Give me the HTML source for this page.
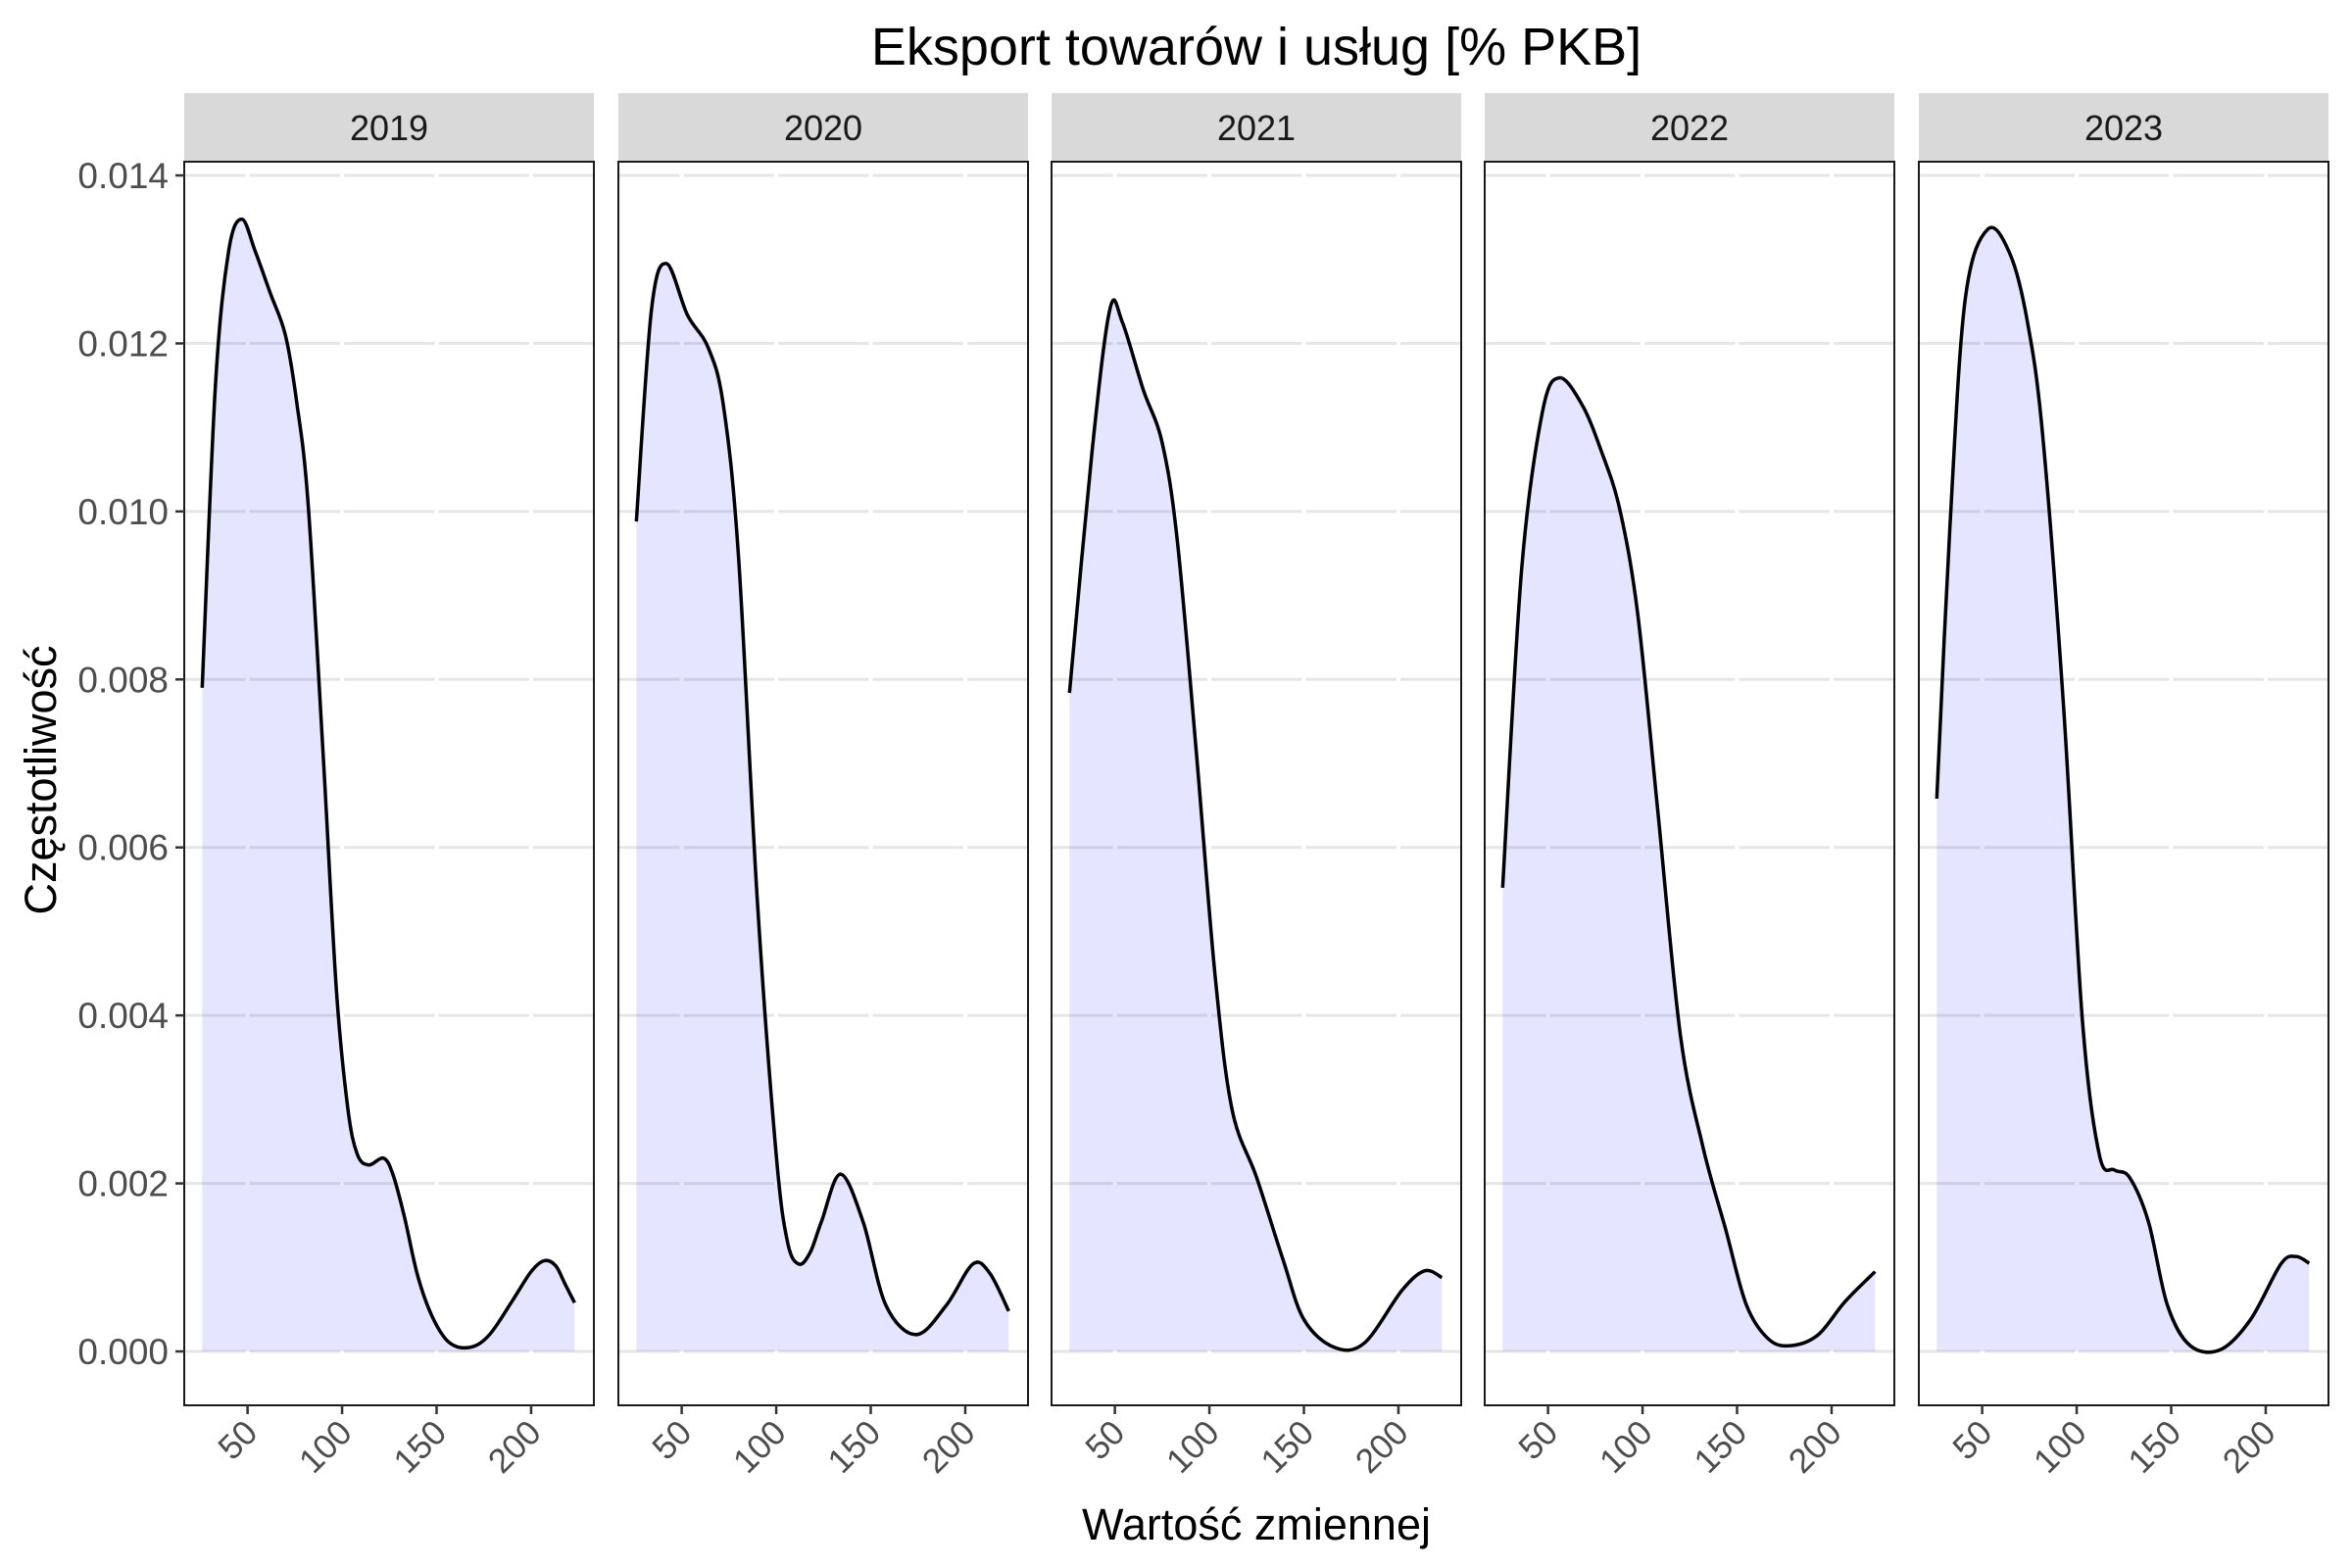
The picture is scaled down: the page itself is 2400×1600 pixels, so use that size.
<!DOCTYPE html>
<html><head><meta charset="utf-8"><style>
html,body{margin:0;padding:0;background:#fff;}
svg{display:block;font-family:"Liberation Sans",sans-serif;}
</style></head><body>
<svg id="chart" width="2400" height="1600" viewBox="0 0 2400 1600">
<text x="1282" y="66" text-anchor="middle" font-size="54" fill="#000">Eksport towarów i usług [% PKB]</text>
<text transform="translate(57,796) rotate(-90)" text-anchor="middle" font-size="45" fill="#000">Częstotliwość</text>
<text x="1282" y="1571" text-anchor="middle" font-size="45" fill="#000">Wartość zmiennej</text>
<g id="panels"></g>
</svg>
<script>
const years = ["2019","2020","2021","2022","2023"];
const yTicks = [0, 0.002, 0.004, 0.006, 0.008, 0.010, 0.012, 0.014];
const yTickLabels = ["0.000","0.002","0.004","0.006","0.008","0.010","0.012","0.014"];
const xTicks = [50, 100, 150, 200];
const xTickLabels = ["50","100","150","200"];
const x2019 = [26,33,40,47,54,62,70,76,82,90,97,103,108,114,122,127,133,140,148,157,168,178,190,200,207,213,218,223];
const y2019 = [.0079,.0115,.0131,.01348,.0131,.0126,.0121,.0113,.0101,.0071,.0043,.0029,.00235,.00222,.0023,.0021,.0016,.0009,.0004,.0001,.00005,.0002,.0006,.00095,.00108,.00102,.0008,.00058];
const x2020 = [26,34,42,53,64,72,80,90,100,106,112,118,124,134,146,158,174,190,204,213,223];
const y2020 = [.00988,.0124,.01295,.01234,.01195,.01127,.00948,.00537,.00234,.0013,.00104,.00118,.00155,.00211,.00154,.00055,.0002,.00055,.00104,.00093,.00048];
const x2021 = [26,38,47.4,54,65,75,83,93,103,112,125,139,150,166,182,202,214,223];
const y2021 = [.00784,.01073,.01241,.01225,.01145,.01082,.00966,.00716,.00448,.00288,.00207,.00109,.00038,.00005,.0001,.00073,.00096,.00088];
const x2022 = [26,36,47,56,68,78,88,97.5,108,120,132,144,155,167,179,193,207,223];
const y2022 = [.00552,.0093,.01118,.01159,.01127,.01073,.01002,.00877,.00645,.00377,.00243,.00145,.00055,.00014,.00007,.0002,.00059,.00095];
const x2023 = [26,33,41,53,65,74,82,93,103,112,120,128,138,148,160,176,192,208,216,223];
const y2023 = [.00658,.00984,.01252,.01336,.01305,.01225,.01091,.0077,.00395,.00234,.00216,.00207,.00154,.00055,.00007,.00002,.00038,.00104,.00113,.00105];
const seriesX = [x2019,x2020,x2021,x2022,x2023];
const seriesY = [y2019,y2020,y2021,y2022,y2023];

const NS="http://www.w3.org/2000/svg";
const panelLefts=[188,631,1073,1515,1958], panelW=418;
const stripTop=95, plotTop=165, plotBottom=1434;
const xMin=16.5, xMax=233.2;
const yScale=v=>1379-(v/0.014)*(1379-179);
function mk(tag,attrs,parent){const e=document.createElementNS(NS,tag);for(const k in attrs)e.setAttribute(k,attrs[k]);parent.appendChild(e);return e;}
function smoothPath(pts){
  let d="M"+pts[0][0].toFixed(2)+","+pts[0][1].toFixed(2);
  for(let i=0;i<pts.length-1;i++){
    const p0=pts[i-1]||pts[i],p1=pts[i],p2=pts[i+1],p3=pts[i+2]||p2;
    const c1=[p1[0]+(p2[0]-p0[0])/6,p1[1]+(p2[1]-p0[1])/6];
    const c2=[p2[0]-(p3[0]-p1[0])/6,p2[1]-(p3[1]-p1[1])/6];
    d+=" C"+c1[0].toFixed(2)+","+c1[1].toFixed(2)+" "+c2[0].toFixed(2)+","+c2[1].toFixed(2)+" "+p2[0].toFixed(2)+","+p2[1].toFixed(2);
  }
  return d;
}
const root=document.getElementById("panels");
years.forEach((yr,i)=>{
  const L=panelLefts[i];
  const xs=v=>L+(v-xMin)/(xMax-xMin)*panelW;
  const g=mk("g",{},root);
  
  
  const strip=mk("rect",{x:L,y:stripTop,width:panelW,height:plotTop-stripTop,fill:"#d9d9d9"},g);
  
  
  const st=mk("text",{x:L+panelW/2,y:143,"text-anchor":"middle","font-size":"36",fill:"#1a1a1a"},g);
  st.textContent=yr;
  
  
  yTicks.forEach(t=>{
    const gl=mk("line",{x1:L,x2:L+panelW,y1:yScale(t),y2:yScale(t),stroke:"#e6e6e6","stroke-width":"3"},g);
    
    
  });
  xTicks.forEach(t=>{
    const gl=mk("line",{x1:xs(t),x2:xs(t),y1:plotTop,y2:plotBottom,stroke:"#fff","stroke-width":"4"},g);
    
    
  });
  const X=seriesX[i],Y=seriesY[i];
  const pts=X.map((v,k)=>[xs(v),yScale(Y[k])]);
  const line=smoothPath(pts);
  const area=mk("path",{d:line+" L"+xs(X[X.length-1])+","+yScale(0)+" L"+xs(X[0])+","+yScale(0)+" Z",fill:"rgba(0,0,255,0.1)"},g);
  
  
  const curve=mk("path",{d:line,fill:"none",stroke:"#000","stroke-width":"3.5"},g);
  
  
  const border=mk("rect",{x:L,y:plotTop,width:panelW,height:plotBottom-plotTop,fill:"none",stroke:"#1a1a1a","stroke-width":"2"},g);
  
  
  xTicks.forEach((t,k)=>{
    const tk=mk("line",{x1:xs(t),x2:xs(t),y1:plotBottom,y2:plotBottom+9,stroke:"#333","stroke-width":"2.5"},g);
    
    
    const lb=mk("text",{transform:"translate("+(xs(t)+12)+","+(plotBottom+30)+") rotate(-45)","text-anchor":"end","font-size":"35",fill:"#4d4d4d"},g);
    lb.textContent=xTickLabels[k];
    
    
  });
  if(i===0){
    yTicks.forEach((t,k)=>{
      const tk=mk("line",{x1:L-9,x2:L,y1:yScale(t),y2:yScale(t),stroke:"#333","stroke-width":"2.5"},g);
      
      
      const lb=mk("text",{x:L-16,y:yScale(t)+13,"text-anchor":"end","font-size":"37",fill:"#4d4d4d"},g);
      lb.textContent=yTickLabels[k];
      
      
    });
  }
});
</script>
</body></html>
